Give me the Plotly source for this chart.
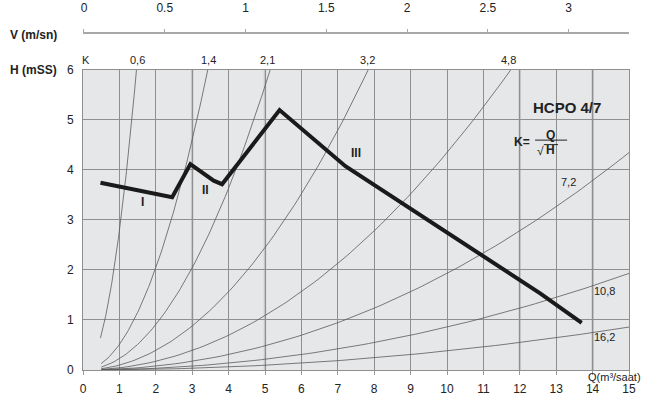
import numpy as np
import plotly.graph_objects as go

# ---- data ----
# pump curve (Q m3/h, H mSS)
pump_q = [0.48, 2.45, 2.95, 3.59, 3.82, 5.40, 7.21, 11.0, 12.56, 13.70]
pump_h = [3.74, 3.45, 4.11, 3.78, 3.71, 5.19, 4.07, 2.26, 1.53, 0.94]
# system curves K = Q / sqrt(H)
k_values = [0.6, 1.4, 2.1, 3.2, 4.8, 7.2, 10.8, 16.2]
k_labels = ["0,6", "1,4", "2,1", "3,2", "4,8", "7,2", "10,8", "16,2"]
q_start = 0.5
q_ticks = list(range(0, 16))
h_ticks = list(range(0, 7))
v_ticks = [0, 0.5, 1, 1.5, 2, 2.5, 3]
v_ticktext = ["0", "0.5", "1", "1.5", "2", "2.5", "3"]
roman = ["I", "II", "III"]

FONT = "Liberation Sans, Arial, sans-serif"
fig = go.Figure()

H_MAX = 6.0
Q_MAX = 15.0
for k in k_values:
    q_end = min(k * np.sqrt(H_MAX), Q_MAX)
    q = np.linspace(q_start if k > 0.6 else 0.48, q_end, 80)
    h = (q / k) ** 2
    fig.add_trace(go.Scatter(x=q, y=h, mode="lines",
                             line=dict(color="#5a5a5a", width=0.8),
                             showlegend=False, hoverinfo="skip"))

fig.add_trace(go.Scatter(x=pump_q, y=pump_h, mode="lines",
                         line=dict(color="#1a1a1a", width=4),
                         showlegend=False, hoverinfo="skip"))

# invisible trace to anchor top velocity axis
fig.add_trace(go.Scatter(x=[v_ticks[0]], y=[None], xaxis="x2", yaxis="y",
                         mode="markers", showlegend=False, hoverinfo="skip"))

W, H = 656, 403
L, R, T, B = 83, 21, 33, 33
PW, PH = W - L - R, H - T - B
XDOM = 546 / PW
YDOM = 300.5 / PH

shapes = []
for xv in [3, 5, 12]:
    shapes.append(dict(type="line", xref="x", yref="y", x0=xv, x1=xv, y0=0, y1=6,
                       line=dict(color="#c6c6c8", width=2.5), layer="below"))
shapes.append(dict(type="line", xref="x", yref="y", x0=14, x1=14, y0=0, y1=6,
                   line=dict(color="#8a8a8a", width=1.6), layer="below"))
# fraction bar and sqrt overline for K = Q / sqrt(H)
shapes.append(dict(type="line", xref="x", yref="y", x0=12.42, x1=13.30, y0=4.59, y1=4.59,
                   line=dict(color="#222", width=1)))
shapes.append(dict(type="line", xref="x", yref="y", x0=12.66, x1=13.05, y0=4.50, y1=4.50,
                   line=dict(color="#222", width=1)))

ann = []
def add(text, x, y, size=11, bold=False, xanchor="center", color="#222"):
    # positions given in chart units, placed in paper coords so they show outside the range too
    ann.append(dict(text=f"<b>{text}</b>" if bold else text,
                    x=x / Q_MAX * XDOM, y=y / H_MAX * YDOM, xref="paper", yref="paper",
                    showarrow=False, xanchor=xanchor, yanchor="middle",
                    font=dict(family=FONT, size=size, color=color)))

add("V (m/sn)", -0.65, 6.69, size=12, bold=True, xanchor="right")
add("H (mSS)", -0.65, 6.0, size=12, bold=True, xanchor="right")
add("K", 0.09, 6.19, size=11)
top_pos = [1.50, 3.45, 5.06, 7.81, 11.68]
for lab, xp in zip(k_labels[:5], top_pos):
    add(lab, xp, 6.19, size=11)
add(k_labels[5], 13.33, 3.75, size=11)
add(k_labels[6], 14.34, 1.58, size=11)
add(k_labels[7], 14.34, 0.66, size=11)
add("HCPO 4/7", 13.30, 5.25, size=15, bold=True)
add("K=", 12.06, 4.56, size=12, bold=True)
add("Q", 12.83, 4.70, size=12, bold=True)
add("√", 12.56, 4.38, size=12)
add("H", 12.84, 4.40, size=12, bold=True)
for r, (xp, yp) in zip(roman, [(1.63, 3.35), (3.36, 3.59), (7.51, 4.33)]):
    add(r, xp, yp, size=12, bold=True)
add("Q(m³/saat)", 14.59, -0.14, size=11)

fig.update_layout(
    width=W, height=H,
    margin=dict(l=L, r=R, t=T, b=B, autoexpand=False),
    paper_bgcolor="white", plot_bgcolor="#e6e7e9",
    font=dict(family=FONT, size=12, color="#222"),
    shapes=shapes, annotations=ann,
    xaxis=dict(domain=[0, XDOM], range=[0, 15], tickvals=q_ticks, automargin=False,
               showgrid=True, gridcolor="#8f8f8f", gridwidth=1,
               showline=True, linecolor="#8f8f8f", linewidth=1, mirror=True,
               ticks="outside", ticklen=4, tickcolor="#999", zeroline=False,
               tickfont=dict(size=12, color="#222"), ticklabelstandoff=4),
    yaxis=dict(domain=[0, YDOM], range=[0, 6], tickvals=h_ticks, automargin=False,
               showgrid=True, gridcolor="#8f8f8f", gridwidth=1,
               showline=True, linecolor="#8f8f8f", linewidth=1, mirror=True,
               ticks="", zeroline=False, tickfont=dict(size=12, color="#222"),
               ticklabelstandoff=6),
    xaxis2=dict(overlaying="x", anchor="free", position=1, side="top", automargin=False,
                domain=[0, 1], range=[-0.006, 3.374], tickvals=v_ticks,
                ticktext=v_ticktext, showgrid=False, zeroline=False,
                showline=True, linecolor="#a8a8a8", linewidth=1.5,
                ticks="outside", ticklen=3, tickcolor="#a8a8a8",
                tickfont=dict(size=12, color="#222"), ticklabelstandoff=12),
)

# remove the browser's default 8px body margin so the figure fills the window
fig.write_html("out.html", config={"displayModeBar": False},
               post_script="document.body.style.margin='0';document.body.style.overflow='hidden';")
